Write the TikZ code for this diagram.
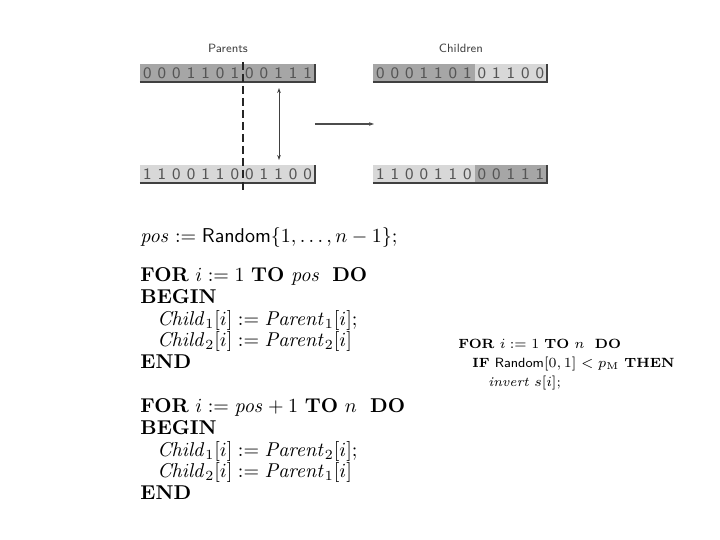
\documentclass[tikz,border=0pt]{standalone}
\usepackage{amsmath}
\usetikzlibrary{arrows.meta}
\definecolor{bardark}{HTML}{A6A6A6}
\definecolor{barlight}{HTML}{D8D8D8}
\definecolor{digitgray}{HTML}{555555}
\definecolor{edgegray}{HTML}{404040}
\begin{document}
\begin{tikzpicture}[x=0.5pt,y=-0.5pt,
  digit/.style={inner sep=0, text=digitgray, font=\fontsize{8}{9}\sffamily},
  caption/.style={inner sep=0, text=black!75, font=\fontsize{6}{7}\sffamily},
  shadowline/.style={draw=edgegray, line width=0.6pt},
  cutline/.style={draw=black!85, line width=0.8pt, dash pattern=on 4pt off 2pt},
  swaparrow/.style={draw=black!75, line width=0.45pt, {Stealth[length=2.5pt,width=1.8pt]}-{Stealth[length=2.5pt,width=1.8pt]}},
  maparrow/.style={draw=black!70, line width=0.6pt, -{Stealth[length=2.5pt,width=1.8pt]}},
  codeL/.style={anchor=base west, inner sep=0, font=\fontsize{10}{12}\selectfont},
  codeR/.style={anchor=base west, inner sep=0, font=\fontsize{6.7}{8}\selectfont}]
\useasboundingbox (0,0) rectangle (720,540);

% captions
\node[caption] (parents) at (228,48) {Parents};
\node[caption] (children) at (461,48) {Children};

% parent bars
\fill[bardark] (140,64) rectangle (315,82);
\draw[shadowline] (140,82) -- (315,82) -- (315,64);
\fill[barlight] (140,165) rectangle (315,183);
\draw[shadowline] (140,183) -- (315,183) -- (315,165);

% children bars
\fill[bardark] (373,64) rectangle (475,82);
\fill[barlight] (475,64) rectangle (547,82);
\draw[shadowline] (373,82) -- (547,82) -- (547,64);
\fill[barlight] (373,165) rectangle (475,183);
\fill[bardark] (475,165) rectangle (547,183);
\draw[shadowline] (373,183) -- (547,183) -- (547,165);

% digits
\foreach \d [count=\k] in {0,0,0,1,1,0,1,0,0,1,1,1}
  \node[digit] (pa\k) at ({140+(\k-0.5)*14.58},73.5) {\d};
\foreach \d [count=\k] in {1,1,0,0,1,1,0,0,1,1,0,0}
  \node[digit] (pb\k) at ({140+(\k-0.5)*14.58},174.5) {\d};
\foreach \d [count=\k] in {0,0,0,1,1,0,1,0,1,1,0,0}
  \node[digit] (ca\k) at ({373+(\k-0.5)*14.5},73.5) {\d};
\foreach \d [count=\k] in {1,1,0,0,1,1,0,0,0,1,1,1}
  \node[digit] (cb\k) at ({373+(\k-0.5)*14.5},174.5) {\d};

% crossover cut
\coordinate (cutT) at (243,62);
\coordinate (cutB) at (243,190);
\draw[cutline] (cutT) -- (cutB);

% swap arrow
\coordinate (swapT) at (279,88);
\coordinate (swapB) at (279,160);
\draw[swaparrow] (swapT) -- (swapB);

% parents -> children arrow
\coordinate (mapS) at (315,124);
\coordinate (mapE) at (374,124);
\draw[maparrow] (mapS) -- (mapE);

% left pseudocode
\node[codeL] (l0) at (140,243) {$\mathit{pos} := \textsf{Random}\{1,\ldots,n-1\};$};
\node[codeL] (l1) at (140,282) {\textbf{FOR} $i := 1$ \textbf{TO} \textit{pos}\ \ \textbf{DO}};
\node[codeL] (l2) at (140,303.6) {\textbf{BEGIN}};
\node[codeL] (l3) at (157,325.2) {$\mathit{Child}_1[i] := \mathit{Parent}_1[i];$};
\node[codeL] (l4) at (157,346.8) {$\mathit{Child}_2[i] := \mathit{Parent}_2[i]$};
\node[codeL] (l5) at (140,368.4) {\textbf{END}};

\node[codeL] (m1) at (140,413) {\textbf{FOR} $i := \mathit{pos}+1$ \textbf{TO} $n$\ \ \textbf{DO}};
\node[codeL] (m2) at (140,434.6) {\textbf{BEGIN}};
\node[codeL] (m3) at (157,456.2) {$\mathit{Child}_1[i] := \mathit{Parent}_2[i];$};
\node[codeL] (m4) at (157,477.8) {$\mathit{Child}_2[i] := \mathit{Parent}_1[i]$};
\node[codeL] (m5) at (140,499.4) {\textbf{END}};

% right pseudocode (mutation)
\node[codeR] (r1) at (458,349) {\textbf{FOR} $i := 1$ \textbf{TO} $n$\ \ \textbf{DO}};
\node[codeR] (r2) at (472,368) {\textbf{IF} \textsf{Random}$[0,1] < p_{\mathrm{M}}$ \textbf{THEN}};
\node[codeR] (r3) at (488,387) {\textit{invert} $s[i]$;};
\end{tikzpicture}
\end{document}
